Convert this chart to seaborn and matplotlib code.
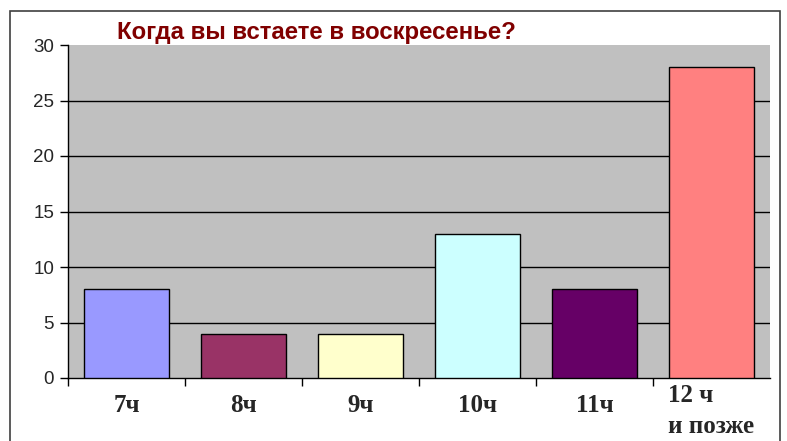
import numpy as np
import pandas as pd
import matplotlib
matplotlib.use("Agg")
import matplotlib.pyplot as plt
import matplotlib.transforms as mtransforms
import seaborn as sns
from matplotlib.patches import Rectangle

# data
categories = ["7ч", "8ч", "9ч", "10ч", "11ч", "12 ч\nи позже"]
counts = [8, 4, 4, 13, 8, 28]
bar_colors = ["#9999FF", "#993366", "#FFFFCC", "#CCFFFF", "#660066", "#FF8080"]
y_ticks = [0, 5, 10, 15, 20, 25, 30]
title = "Когда вы встаете в воскресенье?"

sns.set_style("white")
plt.rcParams["font.family"] = ["Liberation Sans", "DejaVu Sans"]

W, H = 787, 441
fig = plt.figure(figsize=(W / 100, H / 100), dpi=100)
ax = fig.add_axes([68 / W, 1 - 378 / H, (770 - 68) / W, (378 - 45) / H])

df = pd.DataFrame({"cat": categories, "n": counts})
sns.barplot(data=df, x="cat", y="n", hue="cat", palette=bar_colors, legend=False,
            width=0.72, edgecolor="black", linewidth=1.0, saturation=1, ax=ax, zorder=3)

ax.set_facecolor("#C0C0C0")
ax.set_ylim(0, 30)
ax.set_xlim(-0.5, len(categories) - 0.5)
ax.set_yticks(y_ticks)
ax.set_yticklabels([str(t) for t in y_ticks], fontsize=13.5)
for yv in y_ticks[1:-1]:
    ax.axhline(yv, color="black", lw=1.0, zorder=1)

# category labels without tick marks, tick marks between categories
ax.set_xticks(range(len(categories)))
ax.set_xticklabels(categories, fontsize=18, fontweight="bold",
                   family=["Liberation Serif", "DejaVu Serif"])
ax.set_xticks(np.arange(-0.5, len(categories) - 1, 1.0), minor=True)
ax.tick_params(axis="x", which="major", length=0, pad=20, bottom=True)
ax.tick_params(axis="x", which="minor", length=6, width=1, color="black",
               direction="out", bottom=True)
ax.tick_params(axis="y", length=6, width=1, color="black", direction="out", pad=4, left=True)
for t in ax.get_xticklabels():
    t.set_va("center")
    t.set_multialignment("left")
    t.set_linespacing(1.45)
# the two-line label sits a little lower in the reference
last = ax.get_xticklabels()[-1]
last.set_transform(last.get_transform() +
                   mtransforms.ScaledTranslation(0, -5 / 100, fig.dpi_scale_trans))

ax.set_xlabel("")
ax.set_ylabel("")
for s in ["top", "right"]:
    ax.spines[s].set_visible(False)
for s in ["left", "bottom"]:
    ax.spines[s].set_color("black")
    ax.spines[s].set_linewidth(1.0)

fig.text(117 / W, 1 - 32 / H, title, ha="left", va="center", fontsize=17.3,
         fontweight="bold", color="#800000")

# outer chart frame
fig.patches.append(Rectangle((10 / W, -0.05), (780 - 10) / W, 1.05 - 11 / H,
                             transform=fig.transFigure, fill=False,
                             edgecolor="#404040", lw=1.2))

fig.savefig("out.png", dpi=100)
